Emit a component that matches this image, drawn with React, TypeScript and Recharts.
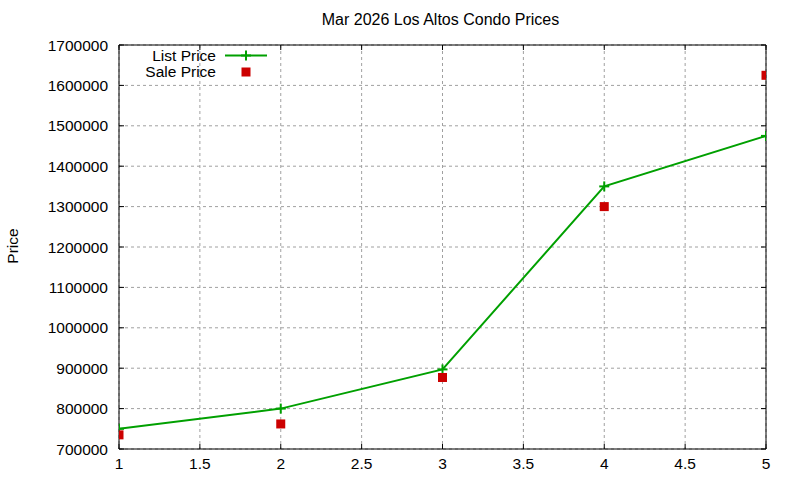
import React from "react";
import { ComposedChart, Line, XAxis, YAxis, CartesianGrid } from "recharts";

const bedrooms = [1, 2, 3, 4, 5];
const listPrices = [750000, 800000, 897000, 1350000, 1475000];
const salePrices = [735000, 762000, 877000, 1300000, 1625000];
const xTicks = [1, 1.5, 2, 2.5, 3, 3.5, 4, 4.5, 5];
const yTicks = [700000, 800000, 900000, 1000000, 1100000, 1200000, 1300000, 1400000, 1500000, 1600000, 1700000];
const seriesNames = ["List Price", "Sale Price"];

const GREEN = "#00a000";
const RED = "#cc0000";
const FONT = "'Liberation Sans', Arial, sans-serif";

const data = bedrooms.map((b, i) => ({ x: b, list: listPrices[i], sale: salePrices[i] }));

const CrossDot = (props: any) => {
  const { cx, cy } = props;
  if (cx == null || cy == null) return null;
  return (
    <g>
      <line x1={cx - 5} y1={cy} x2={cx + 5} y2={cy} stroke={GREEN} strokeWidth={2} />
      <line x1={cx} y1={cy - 5} x2={cx} y2={cy + 5} stroke={GREEN} strokeWidth={2} />
    </g>
  );
};

const SquareDot = (props: any) => {
  const { cx, cy } = props;
  if (cx == null || cy == null) return null;
  return <rect x={cx - 4.5} y={cy - 4.5} width={9} height={9} fill={RED} />;
};

const LegendBox = () => (
  <svg width={170} height={40} style={{ position: "absolute", left: 100, top: 45, overflow: "visible" }}>
    <text x={116} y={10} textAnchor="end" dominantBaseline="central" fontFamily={FONT} fontSize={15.5} fill="#000">
      {seriesNames[0]}
    </text>
    <line x1={125} y1={10.5} x2={167} y2={10.5} stroke={GREEN} strokeWidth={2} />
    <CrossDot cx={146} cy={10.5} />
    <text x={116} y={26} textAnchor="end" dominantBaseline="central" fontFamily={FONT} fontSize={15.5} fill="#000">
      {seriesNames[1]}
    </text>
    <SquareDot cx={146} cy={27} />
  </svg>
);

const tickStyle = { fontFamily: FONT, fontSize: 15.5, fill: "#000" };
const axisLine = { stroke: "#000", strokeWidth: 1 };
const tickLine = { stroke: "#000", strokeWidth: 1 };
const Empty = () => <g />;

export default function App() {
  return (
    <div style={{ position: "absolute", left: 0, top: 0, width: 800, height: 480, background: "#fff", fontFamily: FONT }}>
      <ComposedChart width={800} height={480} data={data} margin={{ top: 0, right: 0, bottom: 0, left: 0 }}>
        <CartesianGrid stroke="#a0a0a0" strokeDasharray="3 3" xAxisId="b" yAxisId="l" />
        <XAxis
          xAxisId="b"
          dataKey="x"
          type="number"
          domain={[1, 5]}
          ticks={xTicks}
          allowDataOverflow
          height={31}
          orientation="bottom"
          axisLine={axisLine}
          tickLine={tickLine}
          tickSize={-5}
          tickMargin={14}
          tick={tickStyle}
          interval={0}
        />
        <XAxis
          xAxisId="t"
          dataKey="x"
          type="number"
          domain={[1, 5]}
          ticks={xTicks}
          allowDataOverflow
          height={45}
          orientation="top"
          axisLine={axisLine}
          tickLine={tickLine}
          tickSize={-5}
          tick={Empty}
          interval={0}
        />
        <YAxis
          yAxisId="l"
          type="number"
          domain={[700000, 1700000]}
          ticks={yTicks}
          allowDataOverflow
          width={119}
          orientation="left"
          axisLine={axisLine}
          tickLine={tickLine}
          tickSize={-5}
          tickMargin={16}
          tick={tickStyle}
          interval={0}
        />
        <YAxis
          yAxisId="r"
          type="number"
          domain={[700000, 1700000]}
          ticks={yTicks}
          allowDataOverflow
          width={34}
          orientation="right"
          axisLine={axisLine}
          tickLine={tickLine}
          tickSize={-5}
          tick={Empty}
          interval={0}
        />
        <Line
          xAxisId="b"
          yAxisId="l"
          type="linear"
          dataKey="list"
          name={seriesNames[0]}
          stroke={GREEN}
          strokeWidth={2}
          dot={<CrossDot />}
          activeDot={false}
          isAnimationActive={false}
        />
        <Line
          xAxisId="b"
          yAxisId="l"
          type="linear"
          dataKey="sale"
          name={seriesNames[1]}
          stroke="none"
          dot={<SquareDot />}
          activeDot={false}
          isAnimationActive={false}
        />
      </ComposedChart>
      <div
        style={{
          position: "absolute",
          left: 0,
          width: 881,
          top: 10,
          textAlign: "center",
          fontSize: 16,
          lineHeight: "20px",
          color: "#000",
        }}
      >
        Mar 2026 Los Altos Condo Prices
      </div>
      <div
        style={{
          position: "absolute",
          left: 13,
          top: 246,
          transform: "translate(-50%, -50%) rotate(-90deg)",
          fontSize: 15.5,
          lineHeight: "18px",
          color: "#000",
          whiteSpace: "nowrap",
        }}
      >
        Price
      </div>
      <LegendBox />
    </div>
  );
}
